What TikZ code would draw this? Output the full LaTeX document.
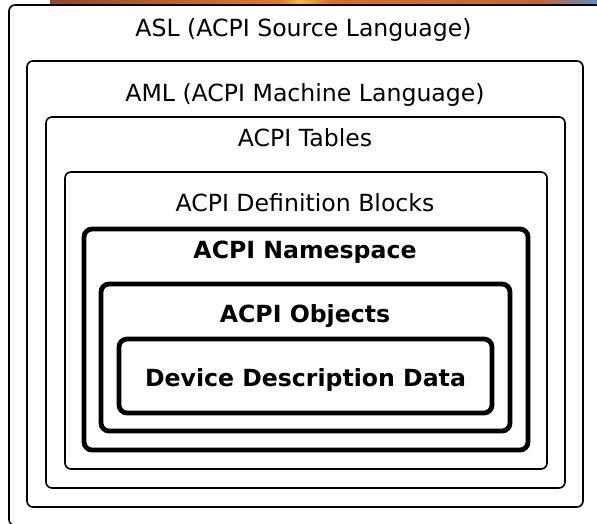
\documentclass[tikz,border=0pt]{standalone}
\usepackage{fontspec}
\setmainfont{DejaVu Sans}
\begin{document}
\begin{tikzpicture}[x=1pt,y=-1pt,
  thinbox/.style={draw=black, line width=1.6pt, rounded corners=6pt, inner sep=0pt, outer sep=0pt},
  thickbox/.style={draw=black, line width=4.8pt, rounded corners=8pt, inner sep=0pt, outer sep=0pt},
  lbl/.style={font=\fontsize{23.6}{27}\selectfont, anchor=base, inner sep=0pt},
  blbl/.style={font=\fontsize{23.6}{27}\bfseries\selectfont, anchor=base, inner sep=0pt}]
\useasboundingbox (0,0) rectangle (597,523);
\fill[white] (0,0) rectangle (597,523);
% photo strip at top
\shade[left color={rgb,255:red,150;green,70;blue,40}, right color={rgb,255:red,230;green,120;blue,40}] (50,0) rectangle (280,5);
\shade[left color={rgb,255:red,230;green,120;blue,40}, right color={rgb,255:red,245;green,190;blue,50}] (280,0) rectangle (300,5);
\shade[left color={rgb,255:red,245;green,190;blue,50}, right color={rgb,255:red,220;green,110;blue,40}] (300,0) rectangle (330,5);
\shade[left color={rgb,255:red,220;green,110;blue,40}, right color={rgb,255:red,200;green,100;blue,50}] (330,0) rectangle (540,5);
\shade[left color={rgb,255:red,200;green,100;blue,50}, right color={rgb,255:red,90;green,140;blue,200}] (540,0) rectangle (597,5);
% boxes
\node[thinbox, minimum width=592pt, minimum height=520.5pt] (asl) at (305,265.25) {};
\node[thinbox, minimum width=556pt, minimum height=446pt] (aml) at (305,284) {};
\node[thinbox, minimum width=519pt, minimum height=371pt] (tables) at (305.5,302.5) {};
\node[thinbox, minimum width=482pt, minimum height=297pt] (defs) at (306,320.5) {};
\node[thickbox, minimum width=444pt, minimum height=221pt] (ns) at (306,339.5) {};
\node[thickbox, minimum width=409pt, minimum height=147pt] (obj) at (305.5,357.5) {};
\node[thickbox, minimum width=373pt, minimum height=74pt] (ddd) at (305.5,376) {};
% labels
\node[lbl] (tasl) at (303.5,36) {ASL (ACPI Source Language)};
\node[lbl] (taml) at (305,101) {AML (ACPI Machine Language)};
\node[lbl] (ttab) at (305,146) {ACPI Tables};
\node[lbl] (tdef) at (305,211) {ACPI Definition Blocks};
\node[blbl] (tns) at (305,258) {ACPI Namespace};
\node[blbl] (tobj) at (305,322) {ACPI Objects};
\node[blbl] (tddd) at (305.5,386) {Device Description Data};
\end{tikzpicture}
\end{document}
